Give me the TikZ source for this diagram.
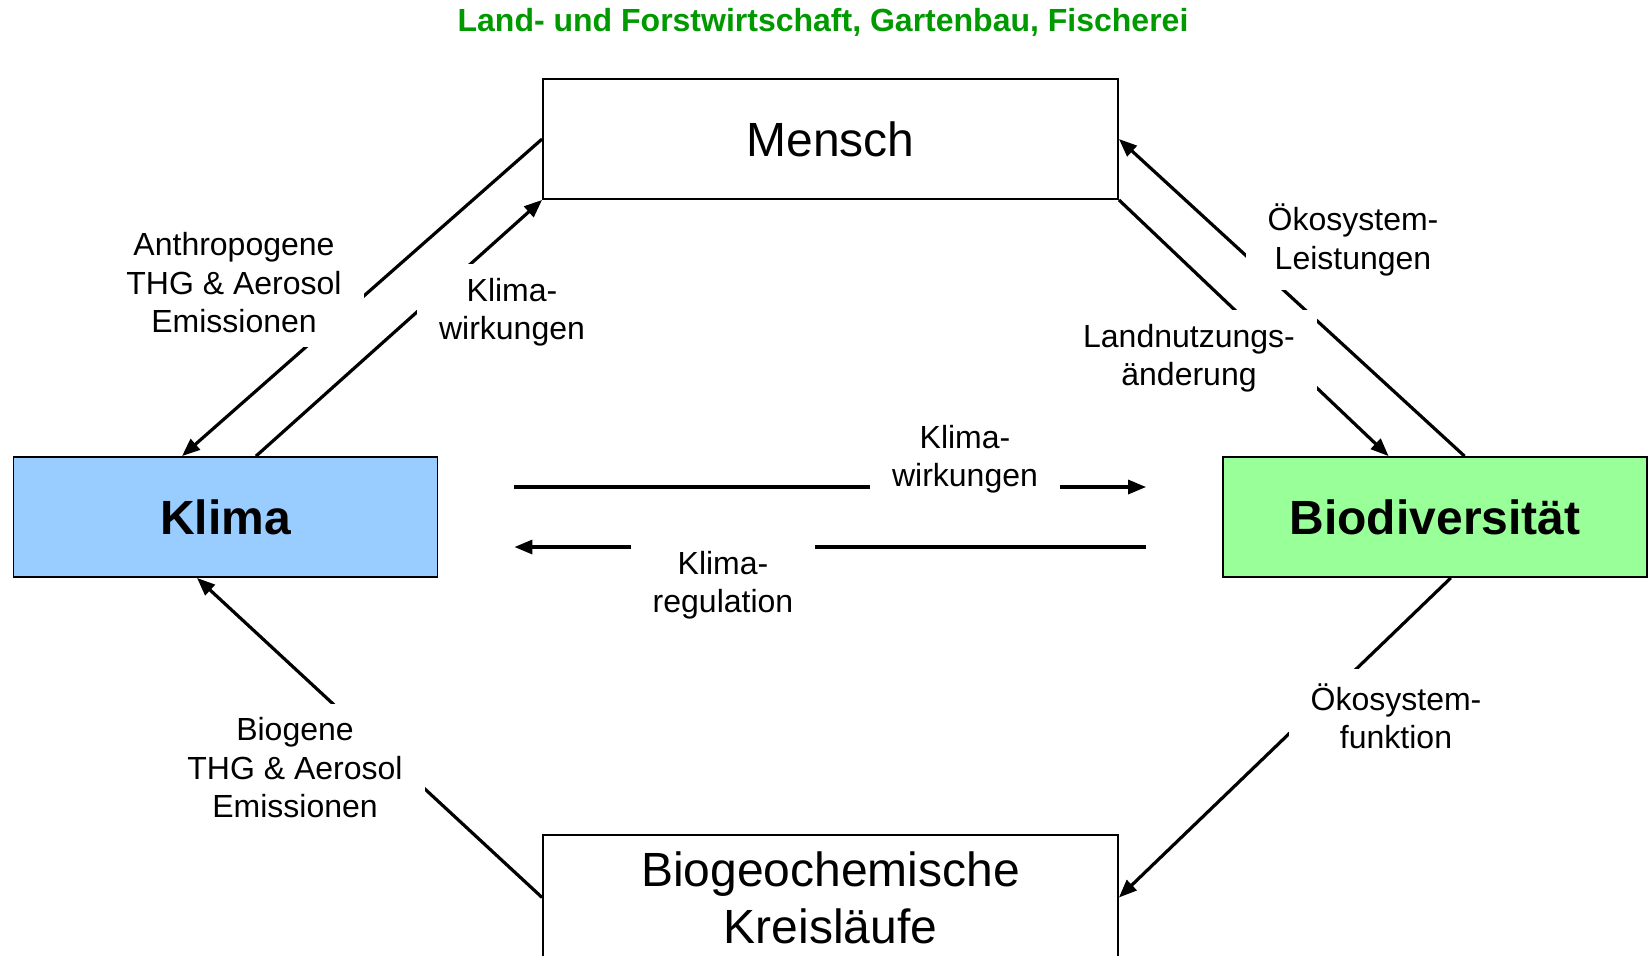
\documentclass[tikz,border=0pt]{standalone}
\usepackage{fontspec}
\setmainfont{Liberation Sans}
\usetikzlibrary{arrows.meta,positioning}
\definecolor{klimablue}{HTML}{99CCFF}
\definecolor{biogreen}{HTML}{99FF99}
\definecolor{titlegreen}{HTML}{009900}

\begin{document}
\begin{tikzpicture}[x=0.5pt,y=-0.5pt,
      box/.style={draw=black,line width=0.9pt,minimum width=287.5pt,minimum height=60pt,
                  align=center,font=\fontsize{24}{28.5}\selectfont},
      sidebox/.style={box,minimum width=212pt,font=\fontsize{24}{28.5}\selectfont\bfseries},
      lbl/.style={fill=white,align=center,inner xsep=11pt,inner ysep=7pt,
                  font=\fontsize{16}{19.25}\selectfont},
      arr/.style={-{Triangle[length=9pt,width=7pt]},line width=1.6pt}]
    \useasboundingbox (0,0) rectangle (1652,955);
    \node[text=titlegreen,font=\fontsize{16}{19}\selectfont\bfseries] (title) at (823,22)
      {Land- und Forstwirtschaft, Gartenbau, Fischerei};
    \node[box] (mensch) at (830.5,139) {Mensch};
    \node[sidebox,fill=klimablue] (klima) at (225.5,517) {Klima};
    \node[sidebox,fill=biogreen] (biodiv) at (1435,517) {Biodiversität};
    \node[box,minimum height=62.5pt] (biogeo) at (830.5,897.5) {Biogeochemische\\ Kreisläufe};
    \draw[arr] (mensch.west) -- ([xshift=-21.75pt]klima.north);
    \draw[arr] ([xshift=15.25pt]klima.north) -- (mensch.south west);
    \draw[arr] ([xshift=14.75pt]biodiv.north) -- (mensch.east);
    \draw[arr] (mensch.south east) -- ([xshift=-23.2pt]biodiv.north);
    \draw[arr,shorten <=38pt,shorten >=38pt] ([yshift=15pt]klima.east) -- ([yshift=15pt]biodiv.west);
    \draw[arr,shorten <=38pt,shorten >=38pt] ([yshift=-15pt]biodiv.west) -- ([yshift=-15pt]klima.east);
    \draw[arr] (biogeo.west) -- ([xshift=-14.25pt]klima.south);
    \draw[arr] ([xshift=7.9pt]biodiv.south) -- (biogeo.east);
    \node[lbl] (anthro)   at (234,283)  {Anthropogene\\ THG \& Aerosol\\ Emissionen};
    \node[lbl] (kwleft)   at (512,312)  {Klima-\\ wirkungen};
    \node[lbl] (oeleist)  at (1353,240) {Ökosystem-\\ Leistungen};
    \node[lbl] (landnutz) at (1189,358) {Landnutzungs-\\ änderung};
    \node[lbl] (kwmid)    at (965,459)  {Klima-\\ wirkungen};
    \node[lbl] (kreg)     at (723,585)  {Klima-\\ regulation};
    \node[lbl] (biogen)   at (295,768)  {Biogene\\ THG \& Aerosol\\ Emissionen};
    \node[lbl] (oefunk)   at (1396,716) {Ökosystem-\\ funktion};
  \end{tikzpicture}
\end{document}
